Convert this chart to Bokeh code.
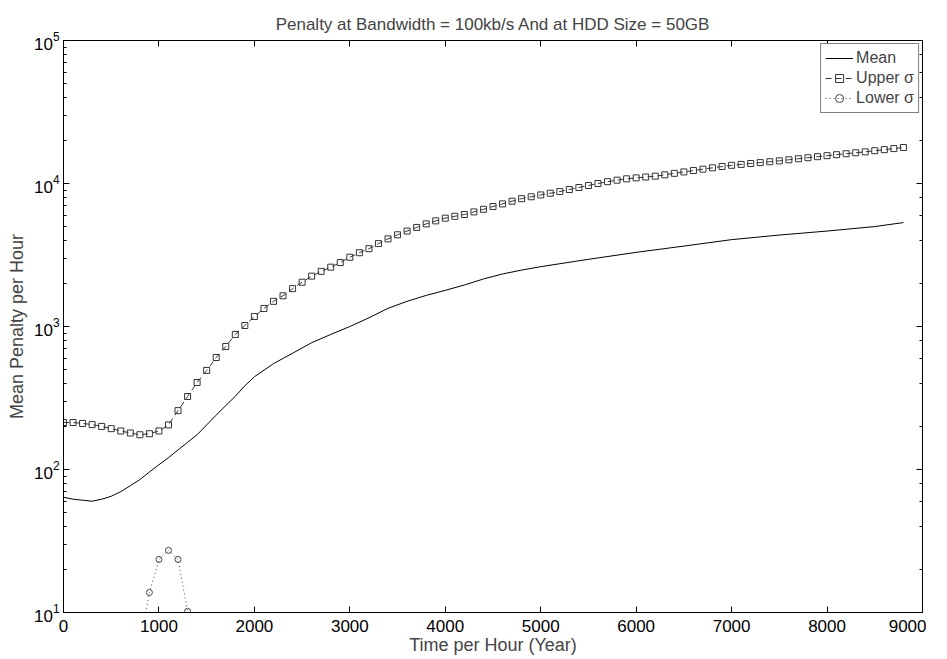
from bokeh.plotting import figure
from bokeh.models import (Range1d, LinearAxis, LogAxis, Legend, LegendItem, FixedTicker,
                          CustomJSTickFormatter)
from bokeh.embed import file_html
from bokeh.resources import INLINE

TITLE = "Penalty at Bandwidth = 100kb/s And at HDD Size = 50GB"
X_LABEL = "Time per Hour (Year)"
Y_LABEL = "Mean Penalty per Hour"
x_ticks = [0, 1000, 2000, 3000, 4000, 5000, 6000, 7000, 8000, 9000]

mean_x = [0, 100, 200, 300, 400, 500, 600, 700, 800, 900, 1000, 1100, 1200, 1300,
          1400, 1500, 1600, 1700, 1800, 1900, 2000, 2200, 2400, 2600, 2800, 3000,
          3200, 3400, 3600, 3800, 4000, 4200, 4400, 4600, 4800, 5000, 5500, 6000,
          6500, 7000, 7500, 8000, 8500, 8800]
mean_y = [64, 62, 61, 60, 62, 65, 70, 77, 85, 96, 108, 121, 137, 155,
          175, 205, 240, 280, 325, 385, 445, 550, 650, 770, 880, 1000,
          1150, 1340, 1500, 1650, 1790, 1950, 2150, 2330, 2480, 2620, 2950, 3300,
          3650, 4050, 4360, 4650, 5000, 5330]

upper_x = list(range(0, 8900, 100))
upper_y = [213, 213, 210, 206, 200, 193, 186, 180, 175, 178,
           186, 205, 258, 324, 406, 493, 607, 725, 880, 1016,
           1175, 1337, 1500, 1640, 1840, 2040, 2250, 2430, 2600, 2800,
           3050, 3280, 3500, 3800, 4100, 4380, 4650, 4930, 5220, 5480,
           5720, 5900, 6070, 6330, 6600, 6900, 7200, 7520, 7830, 8080,
           8320, 8550, 8780, 9080, 9380, 9680, 10000, 10300, 10550, 10780,
           10950, 11100, 11250, 11500, 11780, 12050, 12320, 12600, 12880, 13150,
           13400, 13600, 13800, 14000, 14200, 14400, 14650, 14900, 15150, 15400,
           15650, 15900, 16150, 16400, 16650, 16950, 17250, 17550, 17850]

lower_x = [800, 900, 1000, 1100, 1200, 1300, 1400]
lower_y = [6, 13.8, 23.5, 27.2, 23.5, 10.2, 3]

FONT = "Liberation Sans"

p = figure(frame_width=859, frame_height=572, y_axis_type="log",
           x_range=Range1d(0, 9000), y_range=Range1d(10, 1e5),
           output_backend="svg", toolbar_location=None,
           min_border_left=63, min_border_right=4, min_border_top=40, min_border_bottom=4)
p.title.text = TITLE
p.title.align = "center"
p.title.offset = -16
p.title.text_font = FONT
p.title.text_font_size = "17px"
p.title.text_font_style = "normal"
p.title.standoff = 14
p.grid.visible = False
p.outline_line_color = "black"
p.background_fill_color = "white"

r_mean = p.line(mean_x, mean_y, line_color="black", line_width=1)
r_up_l = p.line(upper_x, upper_y, line_color="#333333", line_width=1, line_dash="6 4")
r_up_m = p.scatter(upper_x, upper_y, marker="square", size=6, fill_color=None,
                   line_color="#333333", line_width=1)
r_lo_l = p.line(lower_x, lower_y, line_color="#444444", line_width=1, line_dash="1 3")
r_lo_m = p.scatter(lower_x, lower_y, marker="circle", size=6, fill_color=None,
                   line_color="#444444", line_width=1)

for ax in [p.xaxis[0], p.yaxis[0]]:
    ax.major_tick_in = 6
    ax.major_tick_out = 0
    ax.minor_tick_in = 3
    ax.minor_tick_out = 0
    ax.major_label_text_font = FONT
    ax.major_label_text_font_size = "17px"
    ax.major_label_text_color = "black"
    ax.axis_label_text_font = FONT
    ax.axis_label_text_font_size = "18px"
    ax.axis_label_text_font_style = "normal"
    ax.axis_line_color = "black"
    ax.major_tick_line_color = "black"
    ax.minor_tick_line_color = "black"

p.xaxis[0].ticker = FixedTicker(ticks=x_ticks)
p.xaxis[0].axis_label = X_LABEL
p.xaxis[0].axis_label_standoff = 0
p.xaxis[0].major_label_standoff = 7
p.yaxis[0].axis_label = Y_LABEL
p.yaxis[0].axis_label_standoff = 4
p.yaxis[0].major_label_standoff = 4

top = LinearAxis(ticker=FixedTicker(ticks=x_ticks), formatter=CustomJSTickFormatter(code="return ''"),
                 major_label_text_font_size="1px",
                 major_tick_in=6, major_tick_out=0, minor_tick_out=0, minor_tick_in=0,
                 major_label_standoff=0, axis_line_color="black")
p.add_layout(top, "above")
right = LogAxis(formatter=CustomJSTickFormatter(code="return ''"),
                major_label_text_font_size="1px", major_tick_in=6, major_tick_out=0,
                minor_tick_in=3, minor_tick_out=0, major_label_standoff=0,
                axis_line_color="black")
p.add_layout(right, "right")

legend = Legend(items=[LegendItem(label="Mean", renderers=[r_mean]),
                       LegendItem(label="Upper σ", renderers=[r_up_l, r_up_m]),
                       LegendItem(label="Lower σ", renderers=[r_lo_l, r_lo_m])],
                location="top_right", label_text_font=FONT, label_text_font_size="16px",
                border_line_color="black", glyph_width=28, spacing=0, padding=4,
                margin=3, label_standoff=3, label_height=20, glyph_height=20)
p.add_layout(legend)

open("out.html", "w").write(file_html(p, INLINE))
